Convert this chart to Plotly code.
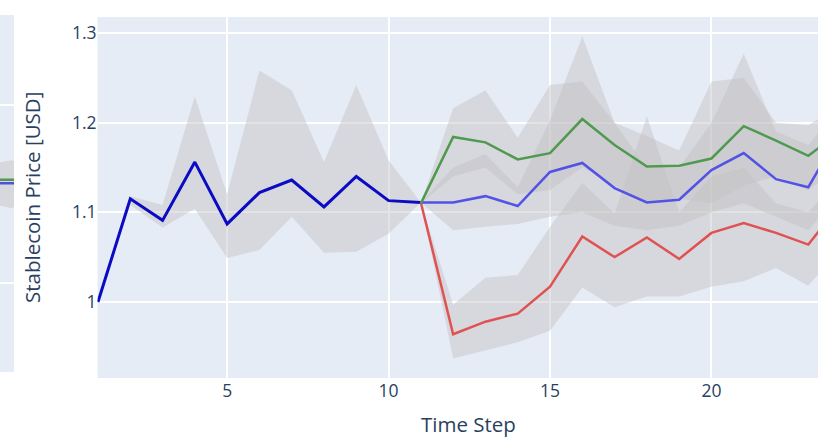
import plotly.graph_objects as go

# ---- data -------------------------------------------------------------
# shared history (time steps 1..11)
hist_steps = [1, 2, 3, 4, 5, 6, 7, 8, 9, 10, 11]
hist_mean = [1.000, 1.115, 1.091, 1.156, 1.087, 1.122, 1.136, 1.106, 1.140, 1.113, 1.111]
hist_upper = [1.000, 1.118, 1.108, 1.229, 1.120, 1.258, 1.236, 1.156, 1.242, 1.158, 1.111]
hist_lower = [1.000, 1.108, 1.083, 1.104, 1.049, 1.058, 1.095, 1.055, 1.056, 1.076, 1.111]

# scenario branches (time steps 11..24)
scen_steps = [11, 12, 13, 14, 15, 16, 17, 18, 19, 20, 21, 22, 23, 24]

green_mean = [1.110, 1.184, 1.178, 1.159, 1.166, 1.204, 1.175, 1.151, 1.152, 1.160, 1.196, 1.180, 1.163, 1.190]
green_upper = [1.110, 1.216, 1.236, 1.183, 1.242, 1.246, 1.200, 1.185, 1.169, 1.246, 1.250, 1.200, 1.197, 1.220]
green_lower = [1.110, 1.140, 1.150, 1.120, 1.125, 1.150, 1.130, 1.110, 1.115, 1.110, 1.130, 1.140, 1.125, 1.150]

blue_mean = [1.111, 1.111, 1.118, 1.107, 1.145, 1.155, 1.127, 1.111, 1.114, 1.147, 1.166, 1.137, 1.128, 1.190]
blue_upper = [1.111, 1.150, 1.165, 1.128, 1.203, 1.296, 1.200, 1.150, 1.150, 1.200, 1.277, 1.190, 1.175, 1.220]
blue_lower = [1.111, 1.080, 1.084, 1.087, 1.095, 1.100, 1.085, 1.080, 1.085, 1.100, 1.110, 1.095, 1.080, 1.120]

red_mean = [1.111, 0.964, 0.978, 0.987, 1.017, 1.073, 1.050, 1.072, 1.048, 1.077, 1.088, 1.077, 1.064, 1.110]
red_upper = [1.111, 0.997, 1.027, 1.030, 1.084, 1.133, 1.099, 1.207, 1.100, 1.140, 1.150, 1.110, 1.100, 1.140]
red_lower = [1.111, 0.937, 0.946, 0.955, 0.968, 1.016, 0.994, 1.006, 1.006, 1.017, 1.023, 1.038, 1.018, 1.060]

# neighbouring panel (only its right edge is in view)
side_steps = [23, 24, 25]
side_green = [1.290, 1.290, 1.290]
side_blue = [1.280, 1.280, 1.280]
side_upper = [1.330, 1.345, 1.320]
side_lower = [1.230, 1.210, 1.240]

BAND = "rgba(195,193,192,0.45)"
W, H = 818, 437


def band(xs, upper, lower, xa="x", ya="y"):
    return go.Scatter(
        x=list(xs) + list(xs)[::-1],
        y=list(upper) + list(lower)[::-1],
        fill="toself", fillcolor=BAND, line=dict(width=0),
        mode="lines", hoverinfo="skip", showlegend=False,
        xaxis=xa, yaxis=ya,
    )


def line(xs, ys, color, width, xa="x", ya="y"):
    return go.Scatter(
        x=xs, y=ys, mode="lines", line=dict(color=color, width=width),
        showlegend=False, xaxis=xa, yaxis=ya,
    )


fig = go.Figure()

# side panel
fig.add_trace(band(side_steps, side_upper, side_lower, "x2", "y2"))
fig.add_trace(line(side_steps, side_green, "#4f9a4f", 2.5, "x2", "y2"))
fig.add_trace(line(side_steps, side_blue, "#5050e0", 2.5, "x2", "y2"))

# main panel: uncertainty bands underneath, mean paths on top
fig.add_trace(band(hist_steps, hist_upper, hist_lower))
fig.add_trace(band(scen_steps, red_upper, red_lower))
fig.add_trace(band(scen_steps, blue_upper, blue_lower))
fig.add_trace(band(scen_steps, green_upper, green_lower))

fig.add_trace(line(hist_steps, hist_mean, "#0b0bc4", 3))
fig.add_trace(line(scen_steps, red_mean, "#e05252", 2.5))
fig.add_trace(line(scen_steps, blue_mean, "#5252e6", 2.5))
fig.add_trace(line(scen_steps, green_mean, "#4f9a4f", 2.5))

top, bottom = 15, 59
plot_h = H - top - bottom

grid = dict(gridcolor="white", gridwidth=1.5, zeroline=False, showline=False)
tickfont = dict(family="Open Sans", size=17.5, color="#2a3f5f")

fig.update_layout(
    width=W, height=H,
    margin=dict(l=0, r=0, t=top, b=bottom),
    paper_bgcolor="white",
    plot_bgcolor="#E5ECF6",
    font=dict(family="Open Sans", color="#2a3f5f"),
    showlegend=False,
    xaxis=dict(domain=[97.5 / W, 1], range=[0.985, 23.30], dtick=5, tick0=0,
               tickfont=tickfont, ticks="", **grid),
    yaxis=dict(domain=[0, (H - bottom - 17) / plot_h], range=[0.9152, 1.3178],
               dtick=0.1, tickfont=tickfont, ticks="", anchor="x", **grid),
    xaxis2=dict(domain=[0, 14 / W], range=[23.6, 24.1], showticklabels=False,
                showgrid=False, zeroline=False, anchor="y2"),
    yaxis2=dict(domain=[(H - bottom - 372) / plot_h, 1], range=[0.75, 1.753],
                dtick=0.5, showticklabels=False, anchor="x2", **grid),
    annotations=[
        dict(text="Time Step", xref="paper", yref="paper",
             x=468 / W, y=(H - bottom - 424) / plot_h,
             xanchor="center", yanchor="middle", showarrow=False,
             font=dict(size=20.5, color="#2a3f5f")),
        dict(text="Stablecoin Price [USD]", xref="paper", yref="paper",
             x=32 / W, y=(H - bottom - 198) / plot_h, textangle=-90,
             xanchor="center", yanchor="middle", showarrow=False,
             font=dict(size=20.5, color="#2a3f5f")),
    ],
)

fig.write_html("out.html")
